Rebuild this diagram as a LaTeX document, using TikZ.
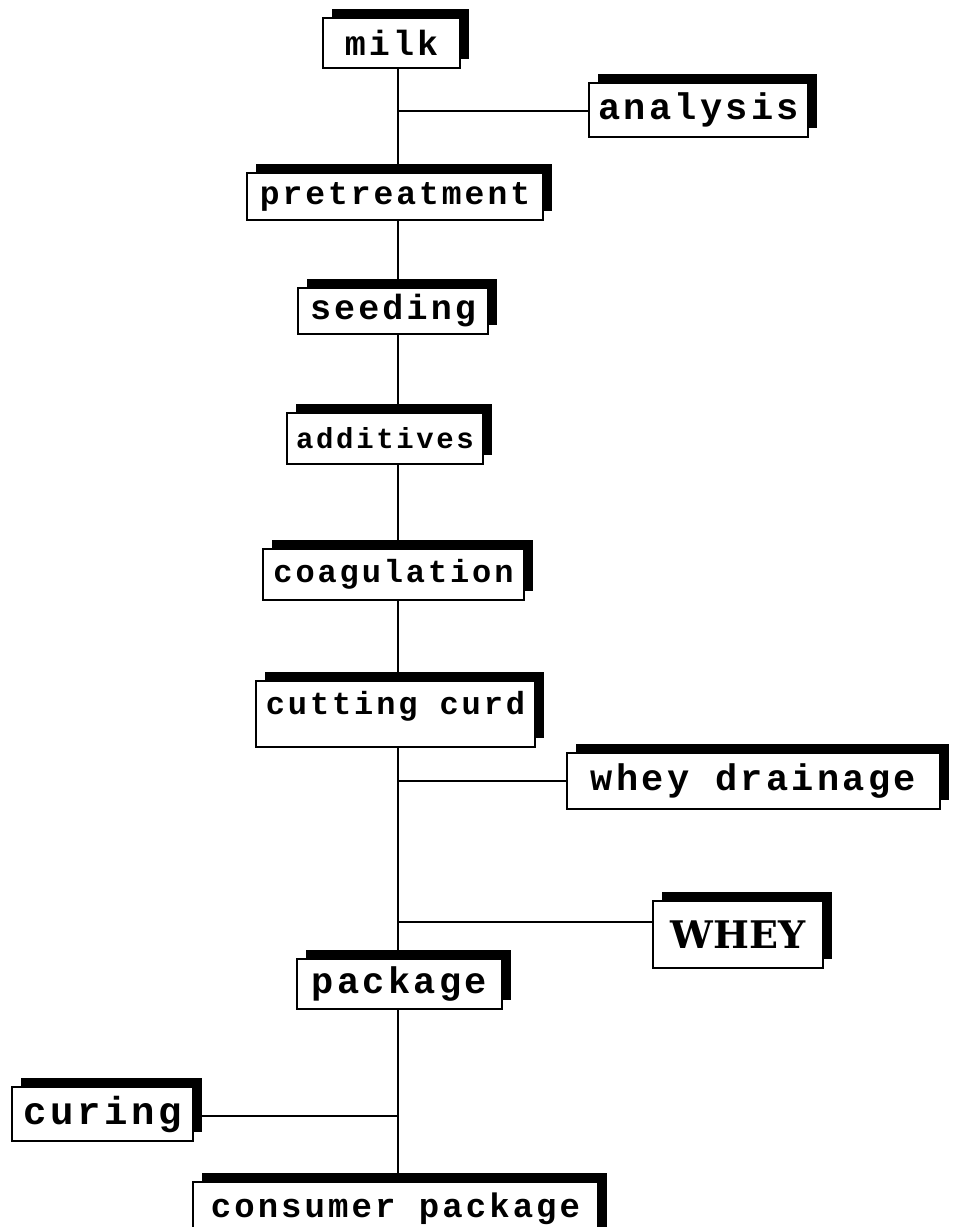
\documentclass[tikz,border=0pt]{standalone}
\usepackage{fontspec}
\usetikzlibrary{shadows}
\newfontfamily\tw{Liberation Mono}[LetterSpace=9]
\newfontfamily\hv{DejaVu Serif}
\tikzset{
  box/.style={draw, line width=2pt, fill=white, inner sep=0pt,
    general shadow={shadow xshift=9pt, shadow yshift=9pt, fill=black}},
  fs/.style={font=\tw\bfseries\fontsize{#1pt}{#1pt}\selectfont},
  link/.style={line width=2pt},
}
\begin{document}
\begin{tikzpicture}[x=1pt,y=-1pt]
\useasboundingbox[fill=white] (0,0) rectangle (960,1227);
\coordinate (sp) at (398,0);
\node[box, fs=35, minimum width=137pt, minimum height=50pt] (milk) at (391.5,43) {milk};
\node[box, fs=37, minimum width=219pt, minimum height=54pt] (ana) at (698.5,110) {analysis};
\node[box, fs=33, minimum width=296pt, minimum height=47pt] (pre) at (395,196.5) {pretreatment};
\node[box, fs=35, minimum width=190pt, minimum height=46pt] (seed) at (393,311) {seeding};
\node[box, fs=29, minimum width=196pt, minimum height=51pt] (add) at (385,438) {additives};
\node[box, fs=32, minimum width=261pt, minimum height=51pt] (coag) at (393.5,574.5) {coagulation};
\node[box, fs=32, minimum width=279pt, minimum height=66pt, text depth=22pt] (cut) at (395.5,714) {cutting curd};
\node[box, fs=37, minimum width=373pt, minimum height=56pt] (wd) at (753.5,781) {whey drainage};
\node[box, font=\hv\bfseries\fontsize{38pt}{38pt}\selectfont, minimum width=170pt, minimum height=67pt] (whey) at (738,934.5) {WHEY};
\node[box, fs=37, minimum width=205pt, minimum height=50pt] (pack) at (399.5,984) {package};
\node[box, fs=39, minimum width=181pt, minimum height=54pt] (cur) at (102.5,1114) {curing};
\node[box, fs=34, minimum width=405pt, minimum height=63pt, text depth=16pt] (cons) at (395.5,1213) {consumer package};
\coordinate (j1) at (398,111);
\coordinate (j2) at (398,781);
\coordinate (j3) at (398,922);
\coordinate (j4) at (398,1116);
\draw[link] (milk.south -| sp) -- (pre.north -| sp);
\draw[link] (pre.south -| sp) -- (seed.north -| sp);
\draw[link] (seed.south -| sp) -- (add.north -| sp);
\draw[link] (add.south -| sp) -- (coag.north -| sp);
\draw[link] (coag.south -| sp) -- (cut.north -| sp);
\draw[link] (cut.south -| sp) -- (pack.north -| sp);
\draw[link] (pack.south -| sp) -- (cons.north -| sp);
\draw[link] (j1) -- (ana.west |- j1);
\draw[link] (j2) -- (wd.west |- j2);
\draw[link] (j3) -- (whey.west |- j3);
\draw[link] (j4) -- (cur.east |- j4);
\end{tikzpicture}
\end{document}
